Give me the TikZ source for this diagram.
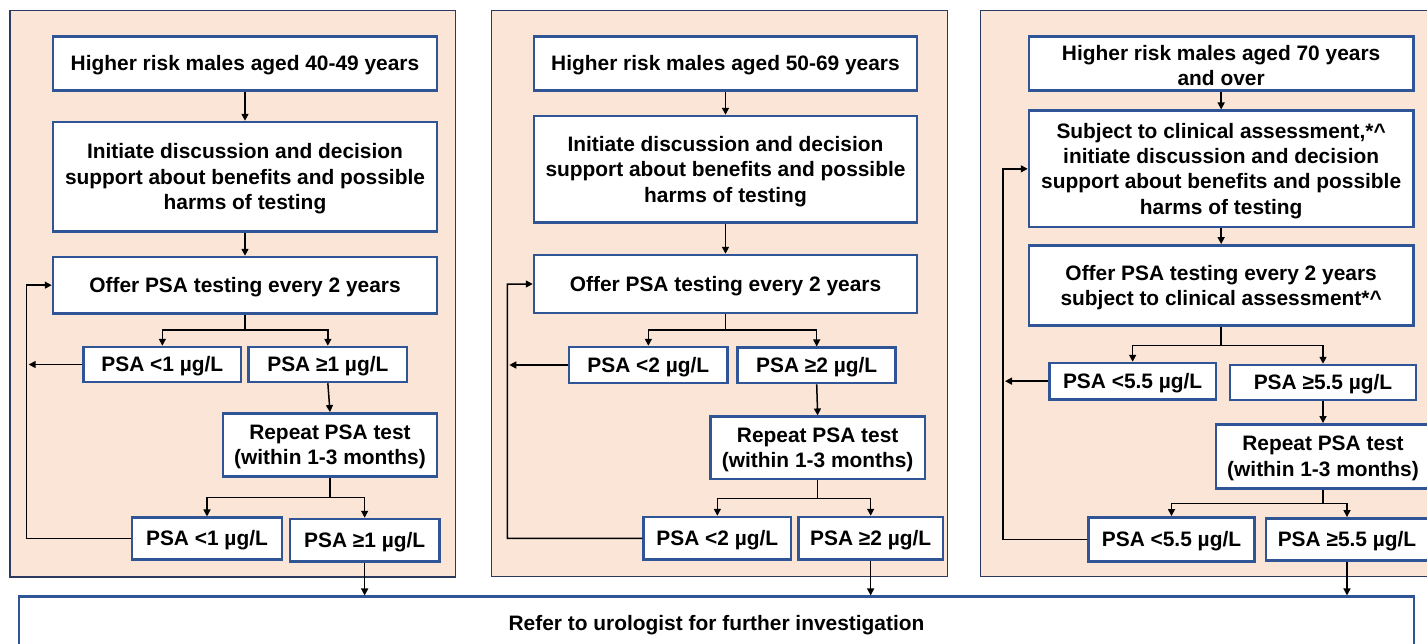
\documentclass[tikz,border=0pt]{standalone}
\usepackage{fontspec}
\setmainfont{Liberation Sans}
\usetikzlibrary{arrows.meta}

\definecolor{panelfill}{HTML}{FBE5D6}
\definecolor{panelline}{HTML}{2B3A5E}
\definecolor{boxline}{HTML}{2F5597}

\tikzset{
  panel/.style={draw=panelline, line width=1.2pt, fill=panelfill},
  stepbox/.style={draw=boxline, line width=2.5pt, fill=white, inner sep=0pt},
  boxtext/.style={inner sep=0pt, align=center,
    font=\bfseries\fontsize{20.9}{25.3}\selectfont},
  link/.style={line width=1.5pt, draw=black},
  arr/.style={link, -{Triangle[length=7pt,width=7pt]}},
}

% box given by its corners: name, x1, y1, x2, y2, text
\newcommand{\flowbox}[6]{%
  \node[stepbox, minimum width={#4-#2}, minimum height={#5-#3}]
    (#1) at ({(#2+#4)/2},{(#3+#5)/2}) {};
  \node[boxtext] (#1-t) at ([yshift=-2pt]#1.center) {#6};}

\begin{document}
\begin{tikzpicture}[x=1pt,y=-1pt]
\useasboundingbox (0,0) rectangle (1427,643);
\clip (0,0) rectangle (1427,643);

% ---------- panel: 40-49 years ----------
\draw[panel] (10,10.5) rectangle (455.5,577);
\flowbox{a1}{53}{36.5}{437}{90.5}{Higher risk males aged 40-49 years}
\flowbox{a2}{53}{122}{437}{231.7}{Initiate discussion and decision\\support about benefits and possible\\harms of testing}
\flowbox{a3}{53}{257}{437}{313.3}{Offer PSA testing every 2 years}
\flowbox{a4}{83.7}{347}{241}{382}{PSA <1 µg/L}
\flowbox{a5}{248.7}{347}{407}{382}{PSA ≥1 µg/L}
\flowbox{a6}{223}{413.3}{437}{476.7}{Repeat PSA test\\(within 1-3 months)}
\flowbox{a7}{132}{517.7}{282}{559.3}{PSA <1 µg/L}
\flowbox{a8}{290}{519}{439.3}{561.7}{PSA ≥1 µg/L}

% ---------- panel: 50-69 years ----------
\draw[panel] (491.7,10.5) rectangle (947.3,576.7);
\flowbox{b1}{534}{36.5}{917}{90.5}{Higher risk males aged 50-69 years}
\flowbox{b2}{534}{116}{917}{222.7}{Initiate discussion and decision\\support about benefits and possible\\harms of testing}
\flowbox{b3}{534}{255}{917}{313}{Offer PSA testing every 2 years}
\flowbox{b4}{569}{347}{727.7}{383}{PSA <2 µg/L}
\flowbox{b5}{737.7}{347.7}{895.7}{383}{PSA ≥2 µg/L}
\flowbox{b6}{710.3}{416.7}{925}{479}{Repeat PSA test\\(within 1-3 months)}
\flowbox{b7}{643.7}{517}{791}{559.7}{PSA <2 µg/L}
\flowbox{b8}{798.3}{517}{943}{559.7}{PSA ≥2 µg/L}

% ---------- panel: 70 years and over ----------
\draw[panel] (980.7,10.5) rectangle (1445,576.7);
\flowbox{c1}{1029}{36.7}{1413.3}{90.7}{Higher risk males aged 70 years\\and over}
\flowbox{c2}{1029}{110.7}{1413.3}{227}{Subject to clinical assessment,*\textasciicircum\\initiate discussion and decision\\support about benefits and possible\\harms of testing}
\flowbox{c3}{1029}{245.3}{1413.3}{325.7}{Offer PSA testing every 2 years\\subject to clinical assessment*\textasciicircum}
\flowbox{c4}{1049.3}{363}{1216}{399.3}{PSA <5.5 µg/L}
\flowbox{c5}{1230}{365}{1416}{400}{PSA ≥5.5 µg/L}
\flowbox{c6}{1216}{424.3}{1430}{488.7}{Repeat PSA test\\(within 1-3 months)}
\flowbox{c7}{1088.7}{517.3}{1254.3}{561.3}{PSA <5.5 µg/L}
\flowbox{c8}{1266}{518.3}{1428}{560.3}{PSA ≥5.5 µg/L}

% ---------- common referral box ----------
\flowbox{R}{19}{596.7}{1414}{650}{Refer to urologist for further investigation}

% ---------- connectors: 40-49 ----------
\draw[arr] (a1.south) -- (a2.north);
\draw[arr] (a2.south) -- (a3.north);
\coordinate (aj1) at (245,330);
\draw[link] (a3.south) -- (aj1);
\draw[arr] (aj1) -| (a4.north);
\draw[arr] (aj1) -| (a5.north);
\draw[arr] (a5.south) -- (a6.north);
\coordinate (aj2) at (330,497.3);
\draw[link] (a6.south) -- (aj2);
\draw[arr] (aj2) -| (a7.north);
\draw[arr] (aj2) -| (a8.north);
\draw[arr] (a8.south) -- (a8.south |- R.north);
\coordinate (al) at (26.7,538.5);
\draw[arr] (a7.west) -- (al) |- (a3.west);
\draw[arr, shorten >=2pt] (a4.west) -- (a4.west -| al);

% ---------- connectors: 50-69 ----------
\draw[arr] (b1.south) -- (b2.north);
\draw[arr] (b2.south) -- (b3.north);
\coordinate (bj1) at (725.5,330);
\draw[link] (b3.south) -- (bj1);
\draw[arr] (bj1) -| (b4.north);
\draw[arr] (bj1) -| (b5.north);
\draw[arr] (b5.south) -- (b6.north);
\coordinate (bj2) at (817.65,498.3);
\draw[link] (b6.south) -- (bj2);
\draw[arr] (bj2) -| (b7.north);
\draw[arr] (bj2) -| (b8.north);
\draw[arr] (b8.south) -- (b8.south |- R.north);
\coordinate (bl) at (507.3,538.35);
\draw[arr] (b7.west) -- (bl) |- (b3.west);
\draw[arr, shorten >=2pt] (b4.west) -- (b4.west -| bl);

% ---------- connectors: 70 and over ----------
\draw[arr] (c1.south) -- (c2.north);
\draw[arr] (c2.south) -- (c3.north);
\coordinate (cj1) at (1221.15,345.3);
\draw[link] (c3.south) -- (cj1);
\draw[arr] (cj1) -| (c4.north);
\draw[arr] (cj1) -| (c5.north);
\draw[arr] (c5.south) -- (c6.north);
\coordinate (cj2) at (1323,503.3);
\draw[link] (c6.south) -- (cj2);
\draw[arr] (cj2) -| (c7.north);
\draw[arr] (cj2) -| (c8.north);
\draw[arr] (c8.south) -- (c8.south |- R.north);
\coordinate (cl) at (1003,539.3);
\draw[arr] (c7.west) -- (cl) |- (c2.west);
\draw[arr, shorten >=2pt] (c4.west) -- (c4.west -| cl);
\end{tikzpicture}
\end{document}
